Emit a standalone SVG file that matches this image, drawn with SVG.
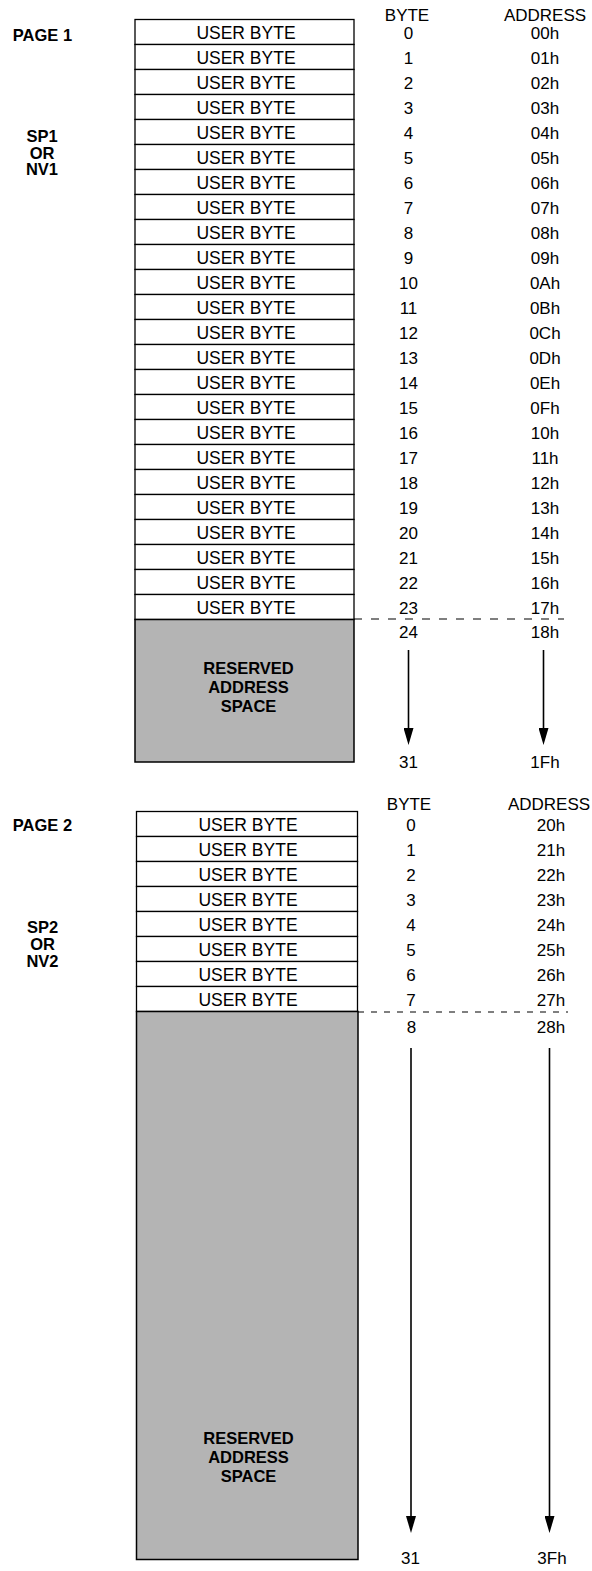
<svg xmlns="http://www.w3.org/2000/svg" width="592" height="1571" viewBox="0 0 592 1571">
<style>
text{font-family:"Liberation Sans",Arial,Helvetica,sans-serif;fill:#000;text-anchor:middle}
.ub{font-size:17.5px}
.n{font-size:17px}
.b{font-size:16.5px;font-weight:bold}
.row{fill:#fff;stroke:#000;stroke-width:1.3}
.res{fill:#b4b4b4;stroke:#000;stroke-width:1.5}
.arr{stroke:#000;stroke-width:1.6;fill:none}
.dash1{stroke:#000;stroke-width:1.1;stroke-dasharray:8 9;fill:none}
.dash2{stroke:#000;stroke-width:1.1;stroke-dasharray:6 7;fill:none}
</style>
<defs>
<marker id="ah" markerUnits="userSpaceOnUse" markerWidth="17" markerHeight="10" viewBox="0 0 17 10" refX="9" refY="5" orient="auto">
<path d="M0,0 L17,5 L0,10 z" fill="#000"/>
</marker>
</defs>
<rect width="592" height="1571" fill="#fff"/>

<!-- PAGE 1 labels -->
<g id="page1-labels">
<text class="b" x="42.5" y="41">PAGE 1</text>
<text class="b" x="42" y="142">SP1</text>
<text class="b" x="42" y="158.5">OR</text>
<text class="b" x="42" y="175">NV1</text>
<text class="n" x="407" y="21">BYTE</text>
<text class="n" x="545" y="21">ADDRESS</text>
</g>

<g id="page1-rows">
<g id="p1r0"><rect class="row" x="135" y="19.5" width="219" height="25"/><text class="ub" x="246" y="39">USER BYTE</text><text class="n" x="408.5" y="39">0</text><text class="n" x="545" y="39">00h</text></g>
<g id="p1r1"><rect class="row" x="135" y="44.5" width="219" height="25"/><text class="ub" x="246" y="64">USER BYTE</text><text class="n" x="408.5" y="64">1</text><text class="n" x="545" y="64">01h</text></g>
<g id="p1r2"><rect class="row" x="135" y="69.5" width="219" height="25"/><text class="ub" x="246" y="89">USER BYTE</text><text class="n" x="408.5" y="89">2</text><text class="n" x="545" y="89">02h</text></g>
<g id="p1r3"><rect class="row" x="135" y="94.5" width="219" height="25"/><text class="ub" x="246" y="114">USER BYTE</text><text class="n" x="408.5" y="114">3</text><text class="n" x="545" y="114">03h</text></g>
<g id="p1r4"><rect class="row" x="135" y="119.5" width="219" height="25"/><text class="ub" x="246" y="139">USER BYTE</text><text class="n" x="408.5" y="139">4</text><text class="n" x="545" y="139">04h</text></g>
<g id="p1r5"><rect class="row" x="135" y="144.5" width="219" height="25"/><text class="ub" x="246" y="164">USER BYTE</text><text class="n" x="408.5" y="164">5</text><text class="n" x="545" y="164">05h</text></g>
<g id="p1r6"><rect class="row" x="135" y="169.5" width="219" height="25"/><text class="ub" x="246" y="189">USER BYTE</text><text class="n" x="408.5" y="189">6</text><text class="n" x="545" y="189">06h</text></g>
<g id="p1r7"><rect class="row" x="135" y="194.5" width="219" height="25"/><text class="ub" x="246" y="214">USER BYTE</text><text class="n" x="408.5" y="214">7</text><text class="n" x="545" y="214">07h</text></g>
<g id="p1r8"><rect class="row" x="135" y="219.5" width="219" height="25"/><text class="ub" x="246" y="239">USER BYTE</text><text class="n" x="408.5" y="239">8</text><text class="n" x="545" y="239">08h</text></g>
<g id="p1r9"><rect class="row" x="135" y="244.5" width="219" height="25"/><text class="ub" x="246" y="264">USER BYTE</text><text class="n" x="408.5" y="264">9</text><text class="n" x="545" y="264">09h</text></g>
<g id="p1r10"><rect class="row" x="135" y="269.5" width="219" height="25"/><text class="ub" x="246" y="289">USER BYTE</text><text class="n" x="408.5" y="289">10</text><text class="n" x="545" y="289">0Ah</text></g>
<g id="p1r11"><rect class="row" x="135" y="294.5" width="219" height="25"/><text class="ub" x="246" y="314">USER BYTE</text><text class="n" x="408.5" y="314">11</text><text class="n" x="545" y="314">0Bh</text></g>
<g id="p1r12"><rect class="row" x="135" y="319.5" width="219" height="25"/><text class="ub" x="246" y="339">USER BYTE</text><text class="n" x="408.5" y="339">12</text><text class="n" x="545" y="339">0Ch</text></g>
<g id="p1r13"><rect class="row" x="135" y="344.5" width="219" height="25"/><text class="ub" x="246" y="364">USER BYTE</text><text class="n" x="408.5" y="364">13</text><text class="n" x="545" y="364">0Dh</text></g>
<g id="p1r14"><rect class="row" x="135" y="369.5" width="219" height="25"/><text class="ub" x="246" y="389">USER BYTE</text><text class="n" x="408.5" y="389">14</text><text class="n" x="545" y="389">0Eh</text></g>
<g id="p1r15"><rect class="row" x="135" y="394.5" width="219" height="25"/><text class="ub" x="246" y="414">USER BYTE</text><text class="n" x="408.5" y="414">15</text><text class="n" x="545" y="414">0Fh</text></g>
<g id="p1r16"><rect class="row" x="135" y="419.5" width="219" height="25"/><text class="ub" x="246" y="439">USER BYTE</text><text class="n" x="408.5" y="439">16</text><text class="n" x="545" y="439">10h</text></g>
<g id="p1r17"><rect class="row" x="135" y="444.5" width="219" height="25"/><text class="ub" x="246" y="464">USER BYTE</text><text class="n" x="408.5" y="464">17</text><text class="n" x="545" y="464">11h</text></g>
<g id="p1r18"><rect class="row" x="135" y="469.5" width="219" height="25"/><text class="ub" x="246" y="489">USER BYTE</text><text class="n" x="408.5" y="489">18</text><text class="n" x="545" y="489">12h</text></g>
<g id="p1r19"><rect class="row" x="135" y="494.5" width="219" height="25"/><text class="ub" x="246" y="514">USER BYTE</text><text class="n" x="408.5" y="514">19</text><text class="n" x="545" y="514">13h</text></g>
<g id="p1r20"><rect class="row" x="135" y="519.5" width="219" height="25"/><text class="ub" x="246" y="539">USER BYTE</text><text class="n" x="408.5" y="539">20</text><text class="n" x="545" y="539">14h</text></g>
<g id="p1r21"><rect class="row" x="135" y="544.5" width="219" height="25"/><text class="ub" x="246" y="564">USER BYTE</text><text class="n" x="408.5" y="564">21</text><text class="n" x="545" y="564">15h</text></g>
<g id="p1r22"><rect class="row" x="135" y="569.5" width="219" height="25"/><text class="ub" x="246" y="589">USER BYTE</text><text class="n" x="408.5" y="589">22</text><text class="n" x="545" y="589">16h</text></g>
<g id="p1r23"><rect class="row" x="135" y="594.5" width="219" height="25"/><text class="ub" x="246" y="614">USER BYTE</text><text class="n" x="408.5" y="614">23</text><text class="n" x="545" y="614">17h</text></g>
</g>

<g id="page1-reserved">
<rect class="res" x="135" y="619.5" width="219" height="142.5"/>
<text class="b" x="248.5" y="674">RESERVED</text>
<text class="b" x="248.5" y="693">ADDRESS</text>
<text class="b" x="248.5" y="712">SPACE</text>
<text class="n" x="408.5" y="638">24</text>
<text class="n" x="545" y="638">18h</text>
<text class="n" x="408.5" y="768">31</text>
<text class="n" x="545" y="768">1Fh</text>
</g>

<!-- PAGE 2 -->
<g id="page2-labels">
<text class="b" x="42.5" y="831">PAGE 2</text>
<text class="b" x="42.5" y="933">SP2</text>
<text class="b" x="42.5" y="950">OR</text>
<text class="b" x="42.5" y="967">NV2</text>
<text class="n" x="409" y="810">BYTE</text>
<text class="n" x="549" y="810">ADDRESS</text>
</g>

<g id="page2-rows">
<g id="p2r0"><rect class="row" x="136.5" y="811.5" width="221" height="25"/><text class="ub" x="248" y="831">USER BYTE</text><text class="n" x="411" y="831">0</text><text class="n" x="551" y="831">20h</text></g>
<g id="p2r1"><rect class="row" x="136.5" y="836.5" width="221" height="25"/><text class="ub" x="248" y="856">USER BYTE</text><text class="n" x="411" y="856">1</text><text class="n" x="551" y="856">21h</text></g>
<g id="p2r2"><rect class="row" x="136.5" y="861.5" width="221" height="25"/><text class="ub" x="248" y="881">USER BYTE</text><text class="n" x="411" y="881">2</text><text class="n" x="551" y="881">22h</text></g>
<g id="p2r3"><rect class="row" x="136.5" y="886.5" width="221" height="25"/><text class="ub" x="248" y="906">USER BYTE</text><text class="n" x="411" y="906">3</text><text class="n" x="551" y="906">23h</text></g>
<g id="p2r4"><rect class="row" x="136.5" y="911.5" width="221" height="25"/><text class="ub" x="248" y="931">USER BYTE</text><text class="n" x="411" y="931">4</text><text class="n" x="551" y="931">24h</text></g>
<g id="p2r5"><rect class="row" x="136.5" y="936.5" width="221" height="25"/><text class="ub" x="248" y="956">USER BYTE</text><text class="n" x="411" y="956">5</text><text class="n" x="551" y="956">25h</text></g>
<g id="p2r6"><rect class="row" x="136.5" y="961.5" width="221" height="25"/><text class="ub" x="248" y="981">USER BYTE</text><text class="n" x="411" y="981">6</text><text class="n" x="551" y="981">26h</text></g>
<g id="p2r7"><rect class="row" x="136.5" y="986.5" width="221" height="25"/><text class="ub" x="248" y="1006">USER BYTE</text><text class="n" x="411" y="1006">7</text><text class="n" x="551" y="1006">27h</text></g>
</g>

<g id="page2-reserved">
<rect class="res" x="136.5" y="1011.5" width="221.5" height="548"/>
<text class="b" x="248.5" y="1444">RESERVED</text>
<text class="b" x="248.5" y="1462.5">ADDRESS</text>
<text class="b" x="248.5" y="1481.5">SPACE</text>
<text class="n" x="411.5" y="1033">8</text>
<text class="n" x="551" y="1033">28h</text>
<text class="n" x="410.5" y="1564">31</text>
<text class="n" x="552" y="1564">3Fh</text>
</g>

<g id="connectors">
<line class="dash1" x1="354" y1="619" x2="564" y2="619"/>
<line class="dash2" x1="358" y1="1012" x2="568" y2="1012"/>
<line class="arr" x1="408.5" y1="650" x2="408.5" y2="737" marker-end="url(#ah)"/>
<line class="arr" x1="543.5" y1="650" x2="543.5" y2="737" marker-end="url(#ah)"/>
<line class="arr" x1="411" y1="1048" x2="411" y2="1525" marker-end="url(#ah)"/>
<line class="arr" x1="549.5" y1="1048" x2="549.5" y2="1525" marker-end="url(#ah)"/>
</g>
</svg>
